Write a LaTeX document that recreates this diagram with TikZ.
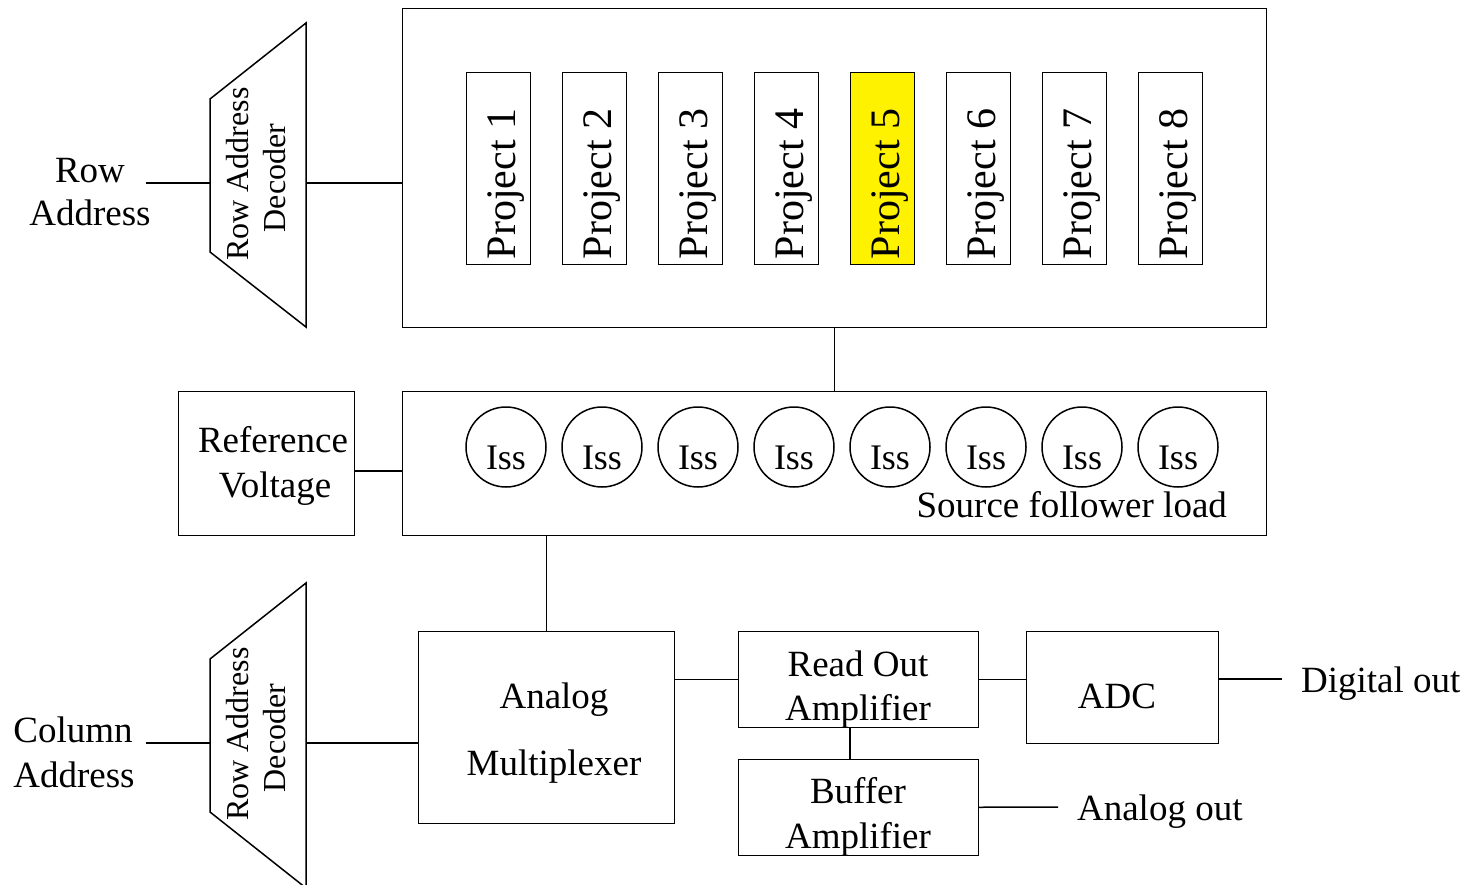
\documentclass[tikz,border=0pt]{standalone}
\usepackage{fontspec}
\setmainfont{Liberation Serif}
\begin{document}
\begin{tikzpicture}[x=1pt,y=-1pt,line width=1.5pt,
  every node/.style={font=\fontsize{37}{44}\selectfont},
  blk/.style={draw,rectangle,inner sep=0pt,anchor=north west},
  projbox/.style={blk,minimum width=64pt,minimum height=192pt},
  projtxt/.style={rotate=90,anchor=base,font=\fontsize{42}{48}\selectfont},
  iss/.style={draw,circle,inner sep=0pt,minimum size=80pt},
  isstxt/.style={anchor=base,font=\fontsize{36}{44}\selectfont},
  dectxt/.style={rotate=90,anchor=base,font=\fontsize{32}{37}\selectfont},
  lbl/.style={anchor=base}]
\useasboundingbox (0,0) rectangle (1472,884);

% top decoder
\draw (210,99) coordinate (d1a) -- (306,23) coordinate (d1b) -- (306,327) coordinate (d1c) -- (210,252) coordinate (d1d) -- cycle;
\coordinate (d1l) at (210,183);
\coordinate (d1r) at (306,183);
\node[dectxt] (d1t1) at (248,174) {Row Address};
\node[dectxt] (d1t2) at (285,178) {Decoder};
\coordinate (rowin) at (146,183);
\node[lbl] (rowlbl1) at (90,182) {Row};
\node[lbl] (rowlbl2) at (90,225) {Address};

% big array box
\node[blk,minimum width=864pt,minimum height=319pt] (big) at (401.5,7.5) {};
\foreach \i in {1,...,8} {
  \pgfmathsetmacro{\xx}{465.5+96*(\i-1)}
  \ifnum\i=5
    \node[projbox,fill=yellow] (p\i) at (\xx,71.5) {};
  \else
    \node[projbox] (p\i) at (\xx,71.5) {};
  \fi
  \node[projtxt] (pt\i) at (\xx+50,184) {Project \i};
}

% source follower box
\node[blk,minimum width=864pt,minimum height=144pt] (sfl) at (401.5,390.5) {};
\foreach \i in {1,...,8} {
  \pgfmathsetmacro{\xx}{506+96*(\i-1)}
  \node[iss] (c\i) at (\xx,447) {};
  \node[isstxt] (ct\i) at (\xx,469) {Iss};
}
\node[anchor=base east,font=\fontsize{37}{44}\selectfont] (sfltxt) at (1231,517) {Source follower load};

% reference voltage
\node[blk,minimum width=176pt,minimum height=144pt] (ref) at (177.5,390.5) {};
\node[lbl] (reft1) at (273,452) {Reference};
\node[lbl] (reft2) at (275,497) {Voltage};

% multiplexer and amplifiers
\node[blk,minimum width=256pt,minimum height=192pt] (mux) at (417.5,630.5) {};
\node[lbl] (muxt1) at (554,708) {Analog};
\node[lbl] (muxt2) at (554,775) {Multiplexer};
\node[blk,minimum width=240pt,minimum height=96pt] (roa) at (737.5,630.5) {};
\node[lbl] (roat1) at (858,676) {Read Out};
\node[lbl] (roat2) at (858,720) {Amplifier};
\node[blk,minimum width=192pt,minimum height=112pt] (adc) at (1025.5,630.5) {};
\node[lbl] (adct) at (1117,708) {ADC};
\node[blk,minimum width=240pt,minimum height=96pt] (buf) at (737.5,758.5) {};
\node[lbl] (buft1) at (858,803) {Buffer};
\node[lbl] (buft2) at (858,848) {Amplifier};
\node[anchor=base west] (digout) at (1297,692) {Digital out};
\node[anchor=base west] (anaout) at (1073,820) {Analog out};
\coordinate (digend) at (1282,679);
\coordinate (anaend) at (1058,807);

% bottom decoder
\draw (210,659) coordinate (d2a) -- (306,583) coordinate (d2b) -- (306,888) coordinate (d2c) -- (210,812) coordinate (d2d) -- cycle;
\coordinate (d2l) at (210,743);
\coordinate (d2r) at (306,743);
\node[dectxt] (d2t1) at (248,734) {Row Address};
\node[dectxt] (d2t2) at (285,738) {Decoder};
\coordinate (colin) at (146,743);
\node[lbl] (collbl1) at (73,742) {Column};
\node[lbl] (collbl2) at (74,787) {Address};

% connectors
\coordinate (refline) at (0,471);
\coordinate (bx) at (850,0);
\draw (rowin) -- (d1l);
\draw (d1r) -- (d1r -| big.west);
\draw (big.south) -- (sfl.north);
\draw (ref.east |- refline) -- (sfl.west |- refline);
\draw (mux.north) -- (mux.north |- sfl.south);
\draw (colin) -- (d2l);
\draw (d2r) -- (d2r -| mux.west);
\draw (roa.west) -- (roa.west -| mux.east);
\draw (roa.east) -- (roa.east -| adc.west);
\draw (adc.east |- digend) -- (digend);
\draw (roa.south -| bx) -- (buf.north -| bx);
\draw (buf.east) -- (anaend);
\end{tikzpicture}
\end{document}
